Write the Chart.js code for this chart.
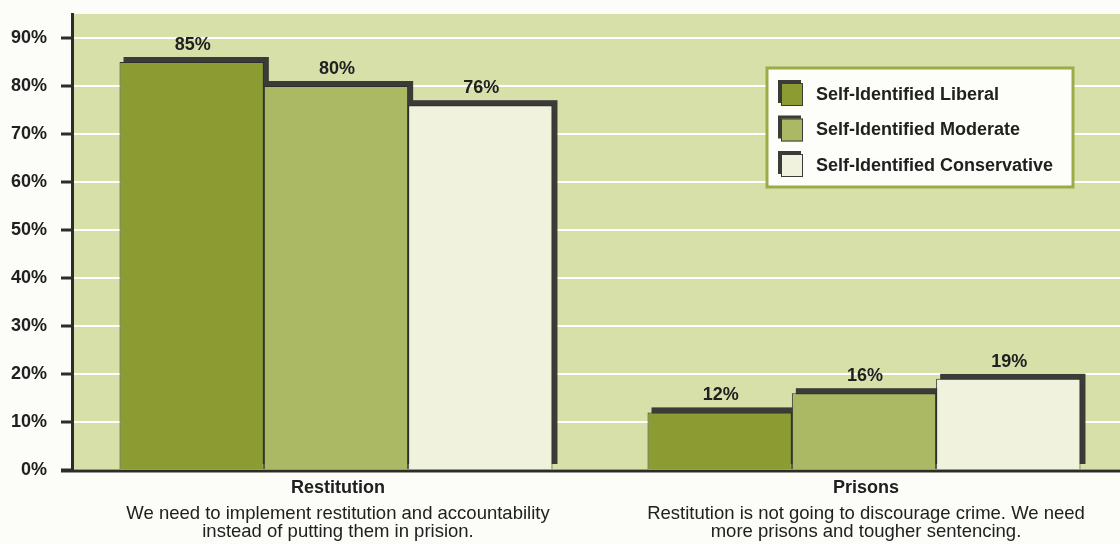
<!DOCTYPE html>
<html>
<head>
<meta charset="utf-8">
<title>Restitution vs Prisons</title>
<script src="https://cdn.jsdelivr.net/npm/chart.js@4.4.1/dist/chart.umd.min.js"></script>
<style>
  html, body { margin: 0; padding: 0; background: #fcfcf8; overflow: hidden; }
  #wrap { width: 1128px; height: 544px; }
</style>
</head>
<body>
<div id="wrap"><canvas id="chart" width="1128" height="544"></canvas></div>
<script>
// ── Data ─────────────────────────────────
const categories = ['Restitution', 'Prisons'];
const captions = [
  ['We need to implement restitution and accountability', 'instead of putting them in prision.'],
  ['Restitution is not going to discourage crime. We need', 'more prisons and tougher sentencing.']
];
const seriesNames  = ['Self-Identified Liberal', 'Self-Identified Moderate', 'Self-Identified Conservative'];
const liberal      = [85, 12];
const moderate     = [80, 16];
const conservative = [76, 19];
const yTicks       = [0, 10, 20, 30, 40, 50, 60, 70, 80, 90];

// ── Look ─────────────────────────────────
const FONT       = "'Liberation Sans', Arial, Helvetica, sans-serif";
const INK        = '#202020';
const SHADOW     = '#3b3b37';
const PLOT_BG    = '#d8e0aa';
const fills      = ['#8c9c33', '#abb964', '#f1f2dd'];

// ── Plot background ──────────────────────
const plotBackground = {
  id: 'plotBackground',
  beforeDraw(chart) {
    const { ctx, chartArea: a } = chart;
    ctx.save();
    ctx.fillStyle = PLOT_BG;
    ctx.fillRect(a.left, a.top, chart.width - a.left, a.bottom - a.top);
    ctx.restore();
  }
};

// ── Offset dark block behind every bar ───
const barShadows = {
  id: 'barShadows',
  beforeDatasetsDraw(chart) {
    const { ctx } = chart;
    ctx.save();
    ctx.fillStyle = SHADOW;
    chart.data.datasets.forEach((ds, i) => {
      chart.getDatasetMeta(i).data.forEach(bar => {
        const { x, y, base, width } = bar.getProps(['x', 'y', 'base', 'width'], true);
        ctx.fillRect(x - width / 2 + 4, y - 5, width + 1, base - y);
      });
    });
    ctx.restore();
  }
};

// ── Percent labels over bars ─────────────
const valueLabels = {
  id: 'valueLabels',
  afterDatasetsDraw(chart) {
    const { ctx } = chart;
    ctx.save();
    ctx.font = `bold 18px ${FONT}`;
    ctx.fillStyle = INK;
    ctx.textAlign = 'center';
    ctx.textBaseline = 'alphabetic';
    chart.data.datasets.forEach((ds, i) => {
      chart.getDatasetMeta(i).data.forEach((bar, j) => {
        ctx.fillText(ds.data[j] + '%', bar.x + 1, bar.y - 12);
      });
    });
    ctx.restore();
  }
};

// ── Baseline and category captions ───────
const categoryCaptions = {
  id: 'categoryCaptions',
  afterDraw(chart) {
    const { ctx, chartArea: a } = chart;
    const xs = chart.scales.x;
    ctx.save();
    ctx.strokeStyle = '#2c2c29';
    ctx.lineWidth = 3;
    ctx.beginPath();
    ctx.moveTo(61, a.bottom + 1);
    ctx.lineTo(chart.width, a.bottom + 1);
    ctx.stroke();

    ctx.fillStyle = INK;
    ctx.textAlign = 'center';
    categories.forEach((name, i) => {
      const cx = xs.getPixelForValue(i) + 2;
      ctx.font = `bold 18px ${FONT}`;
      ctx.fillText(name, cx, a.bottom + 23);
      ctx.font = `18.5px ${FONT}`;
      captions[i].forEach((line, k) => ctx.fillText(line, cx, a.bottom + 49 + k * 18));
    });
    ctx.restore();
  }
};

// ── Framed legend box ────────────────────
const boxLegend = {
  id: 'boxLegend',
  afterDraw(chart) {
    const { ctx } = chart;
    const left = 767, top = 68, w = 306, h = 119;
    ctx.save();
    ctx.fillStyle = '#fdfdf9';
    ctx.fillRect(left, top, w, h);
    ctx.strokeStyle = '#9aab48';
    ctx.lineWidth = 3;
    ctx.strokeRect(left, top, w, h);

    ctx.font = `bold 18px ${FONT}`;
    ctx.textBaseline = 'middle';
    chart.data.datasets.forEach((ds, i) => {
      const sy = top + 15 + i * 35.5;
      ctx.fillStyle = SHADOW;
      ctx.fillRect(left + 11, sy - 3, 23, 23);
      ctx.fillStyle = ds.backgroundColor;
      ctx.fillRect(left + 14, sy, 22, 23);
      ctx.strokeStyle = '#3a3a36';
      ctx.lineWidth = 1;
      ctx.strokeRect(left + 14.5, sy + 0.5, 21, 22);
      ctx.fillStyle = INK;
      ctx.fillText(ds.label, left + 49, sy + 12);
    });
    ctx.restore();
  }
};

// ── Chart ────────────────────────────────
const series = [liberal, moderate, conservative];

new Chart(document.getElementById('chart'), {
  type: 'bar',
  data: {
    labels: categories,
    datasets: series.map((values, i) => ({
      label:           seriesNames[i],
      data:            values,
      backgroundColor: fills[i],
      borderColor:     '#2e2e2b',
      borderWidth:     { left: 1, right: 1, top: 1, bottom: 0 },
      borderSkipped:   'bottom',
      categoryPercentage: 0.82,
      barPercentage:   1
    }))
  },
  options: {
    responsive: false,
    animation:  false,
    layout: { padding: { top: 14, bottom: 74, left: 0, right: 0 } },
    plugins: {
      legend:  { display: false },
      tooltip: { enabled: false }
    },
    scales: {
      x: { display: false },
      y: {
        min: 0,
        max: 95,
        afterBuildTicks: (scale) => {
          scale.ticks = yTicks.map(v => ({ value: v }));
        },
        // fixed gutter for the % labels, no extra label overhang
        afterFit: (scale) => {
          scale.width = 72;
          scale.paddingTop = 0;
          scale.paddingBottom = 0;
        },
        grid: {
          color:       '#ffffff',
          lineWidth:   2,
          tickColor:   '#2c2c29',
          tickWidth:   3,
          tickLength:  11
        },
        border: { display: true, color: '#2c2c29', width: 3 },
        ticks: {
          padding: 14,
          color:   INK,
          font:    { family: FONT, size: 18, weight: 'bold' },
          callback: (v) => v + '%'
        }
      }
    }
  },
  plugins: [plotBackground, barShadows, valueLabels, categoryCaptions, boxLegend]
});
</script>
</body>
</html>
